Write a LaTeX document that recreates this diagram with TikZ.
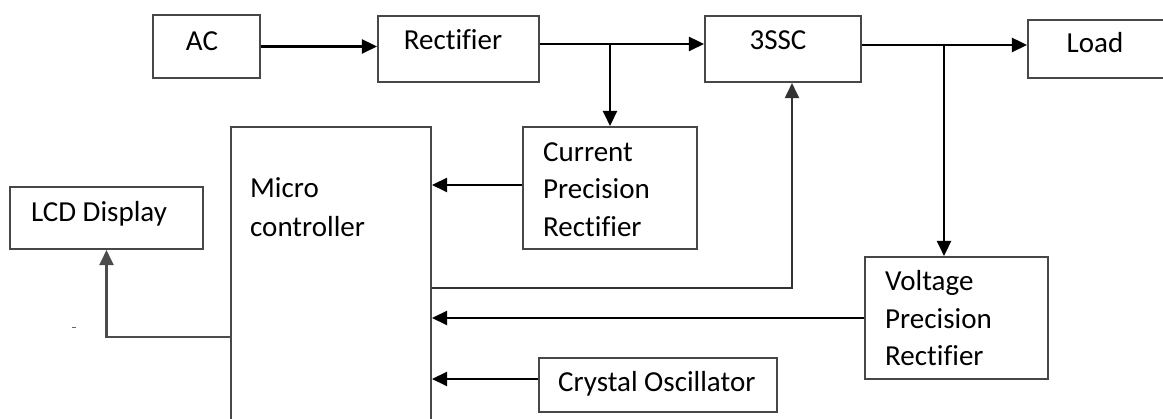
\documentclass[tikz,border=0pt]{standalone}
\usepackage{fontspec}
\setmainfont{Carlito}[Ligatures=NoCommon]
\usetikzlibrary{arrows.meta}
\begin{document}
\begin{tikzpicture}[x=1pt,y=-1pt,
  blk/.style={draw=black!72, line width=2.1pt, rectangle, inner sep=0pt},
  lbl/.style={font=\fontsize{29}{35}\selectfont, inner sep=0pt, text=black},
  conn/.style={draw=black, line width=2.6pt},
  arr/.style={conn, -{Triangle[length=15pt,width=14pt]}}]
\useasboundingbox[fill=white] (0,0) rectangle (1163,419);
% boxes
\node[blk, minimum width=107pt, minimum height=63pt] (ac) at (206.5,46.5) {};
\node[blk, minimum width=161pt, minimum height=66pt] (rect) at (458.5,49) {};
\node[blk, minimum width=156pt, minimum height=66pt] (sssc) at (783,49) {};
\node[blk, minimum width=142pt, minimum height=58pt] (load) at (1099,49) {};
\node[blk, minimum width=174pt, minimum height=122pt] (cur) at (610,188) {};
\node[blk, minimum width=200pt, minimum height=313pt] (micro) at (331,283.5) {};
\node[blk, minimum width=193pt, minimum height=62pt] (lcd) at (106.5,218) {};
\node[blk, minimum width=183pt, minimum height=122pt] (volt) at (956.5,318) {};
\node[blk, minimum width=238pt, minimum height=54pt] (cry) at (658,385) {};
% texts
\node[lbl, anchor=base] (acT) at (202,51) {AC};
\node[lbl, anchor=base] (rectT) at (453,50) {Rectifier};
\node[lbl, anchor=base] (ssscT) at (778,50) {3SSC};
\node[lbl, anchor=base] (loadT) at (1095,53) {Load};
\node[lbl, anchor=base] (lcdT) at (99,222) {LCD Display};
\node[lbl, anchor=base west] (microT1) at (250,198) {Micro};
\node[lbl, anchor=base west] (microT2) at (250,237) {controller};
\node[lbl, anchor=base west] (curT1) at (543,162) {Current};
\node[lbl, anchor=base west] (curT2) at (543,199) {Precision};
\node[lbl, anchor=base west] (curT3) at (543,237) {Rectifier};
\node[lbl, anchor=base west] (voltT1) at (885,291) {Voltage};
\node[lbl, anchor=base west] (voltT2) at (885,329) {Precision};
\node[lbl, anchor=base west] (voltT3) at (885,366) {Rectifier};
\node[lbl, anchor=base west] (cryT) at (558,392) {Crystal Oscillator};
% connectors
\draw[arr] (ac.east) -- (ac.east -| rect.west);
\draw[arr] ([yshift=5pt]rect.east) -- ([yshift=5pt]rect.east -| sssc.west);
\coordinate (b1) at ([yshift=5pt]rect.east -| cur.north);
\draw[arr] (b1) -- (cur.north);
\draw[arr] ([yshift=4pt]sssc.east) -- ([yshift=4pt]sssc.east -| load.west);
\coordinate (b2) at ([yshift=4pt]sssc.east -| 944,0);
\draw[arr] (b2) -- (b2 |- volt.north);
\draw[arr] ([yshift=3pt]cur.west) -- ([yshift=3pt]cur.west -| micro.east);
\draw[arr, draw=black!70, line width=2.3pt] (micro.west |- 0,337) -| (lcd.south);
\draw[arr, line width=1.9pt, draw=black!80] (micro.east |- 0,288) -| ([xshift=9pt]sssc.south);
\draw[arr] (volt.west) -- (volt.west -| micro.east);
\draw[arr] ([yshift=6pt]cry.west) -- ([yshift=6pt]cry.west -| micro.east);
% stray mark
\draw[line width=1pt, black!60] (72,328) -- (76,328);
\end{tikzpicture}
\end{document}
